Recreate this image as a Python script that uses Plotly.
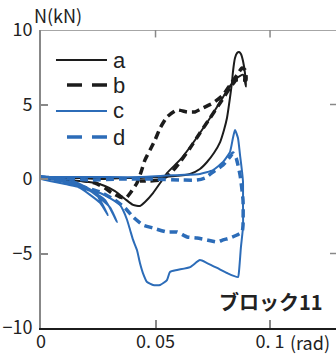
import plotly.graph_objects as go

# ---- data (x: rotation in rad, y: axial force N in kN) ----
a_x = [0, 0.008, 0.017, 0.026, 0.035, 0.043, 0.052, 0.0585, 0.0651, 0.0694, 0.0725, 0.0755, 0.0782,
       0.0799, 0.0812, 0.0825, 0.0834, 0.0838, 0.0847, 0.0856, 0.0865, 0.0873, 0.0882, 0.0891, 0.0895,
       0.0882, 0.0856, 0.0825, 0.0782, 0.0738, 0.0694, 0.0651, 0.0607, 0.0550, 0.0520, 0.0489, 0.0454,
       0.0432, 0.0402, 0.0367, 0.0323, 0.0279, 0.0236, 0.0170, 0.0105, 0.0039, 0]
a_y = [0.1, 0.07, 0.07, 0.0, 0.07, 0.07, 0.13, 0.2, 0.34, 0.67, 1.14, 1.74, 2.48,
       3.29, 4.09, 5.44, 6.51, 7.18, 8.12, 8.46, 8.52, 8.39, 7.92, 7.05, 6.2,
       7.0, 6.78, 6.24, 5.17, 4.09, 3.09, 2.15, 1.28, 0.40, -0.27, -0.94, -1.54,
       -1.81, -1.74, -1.34, -0.81, -0.47, -0.27, -0.13, -0.07, 0.0, 0.1]

b_x = [0, 0.0083, 0.017, 0.0236, 0.0279, 0.031, 0.0345, 0.0371, 0.0393, 0.0419, 0.0437, 0.0454,
       0.0476, 0.0498, 0.052, 0.055, 0.0594, 0.0638, 0.0672, 0.0707, 0.0751, 0.0795, 0.0825, 0.0856,
       0.0878, 0.0891, 0.0895, 0.0882, 0.0852, 0.0825, 0.0782, 0.0738, 0.0694, 0.0651, 0.0607, 0.0563,
       0.052, 0.0476, 0.0432]
b_y = [0.07, 0.0, -0.07, -0.27, -0.6, -0.94, -1.21, -1.28, -0.87, -0.27, 0.47, 1.28,
       1.95, 2.62, 3.42, 4.16, 4.63, 4.50, 4.50, 4.77, 5.10, 5.64, 6.31, 6.98,
       7.45, 7.32, 6.64, 6.64, 6.64, 6.11, 5.10, 4.09, 3.09, 2.08, 1.14, 0.34,
       -0.07, -0.13, -0.13]

c_x = [0, 0.0127, 0.0236, 0.0292, 0.0258, 0.017, 0.0083, 0, 0.017, 0.0279, 0.0332, 0.0301, 0.0214,
       0.0083, 0, 0.0083, 0.0258, 0.0432, 0.0607, 0.0694, 0.0751, 0.0795, 0.0825, 0.0838, 0.0847,
       0.086, 0.0869, 0.0878, 0.0882, 0.0882, 0.0882, 0.0873, 0.0865, 0.086, 0.0812, 0.0769, 0.0725,
       0.0694, 0.0651, 0.0594, 0.0563, 0.055, 0.052, 0.0489, 0.0463, 0.0445, 0.0432, 0.0419, 0.0402,
       0.0389, 0.0376, 0.0358, 0.0345, 0.0301, 0.0258, 0.0214, 0.017, 0.0105, 0.0039, 0]
c_y = [0.13, -0.07, -0.9, -2.42, -1.6, -0.6, -0.1, 0.2, -0.4, -1.4, -2.89, -1.9, -0.8,
       -0.1, 0.13, 0.13, 0.13, 0.13, 0.27, 0.34, 0.6, 1.14, 1.81, 2.75, 3.29,
       2.75, 1.61, 0.47, -0.2, -1.61, -3.22, -4.56, -6.11, -6.58, -6.31, -5.97, -5.64,
       -5.44, -5.91, -6.11, -6.24, -6.78, -7.11, -7.11, -6.91, -6.31, -5.64, -4.77, -4.09,
       -3.42, -2.75, -2.08, -1.74, -1.28, -0.94, -0.74, -0.54, -0.34, -0.13, 0]

d_x = [0, 0.0083, 0.0214, 0.0345, 0.0476, 0.062, 0.0681, 0.0716, 0.0751, 0.0795, 0.0825, 0.0838,
       0.0852, 0.0869, 0.0882, 0.0882, 0.0878, 0.0856, 0.0825, 0.0795, 0.0769, 0.0725, 0.0681, 0.0638,
       0.0594, 0.055, 0.0489, 0.0445, 0.0402, 0.0367, 0.0323, 0.0258, 0.017, 0.0083, 0]
d_y = [0.13, 0.07, -0.07, 0.0, 0.0, -0.07, -0.07, 0.07, 0.47, 0.94, 1.48, 1.74,
       1.41, 0.27, -1.41, -3.09, -3.56, -3.76, -3.96, -4.09, -4.23, -4.09, -3.96, -3.89,
       -3.56, -3.56, -3.29, -3.09, -2.55, -1.95, -1.41, -0.87, -0.47, -0.13, 0.07]

series_names = ["a", "b", "c", "d"]
x_tickvals = [0, 0.05, 0.1]
x_ticktext = ["0", "0. 05", "0. 1"]
y_tickvals = [-10, -5, 0, 5, 10]
y_ticktext = ["\u221210", "\u22125", "0", "5", "10"]

BLACK = "#1c1c1c"
BLUE = "#2c6cb8"
FONT = "Noto Sans CJK JP"

fig = go.Figure()
styles = {
    "a": dict(color=BLACK, width=2, dash="solid"),
    "b": dict(color=BLACK, width=3.5, dash="8px,5px"),
    "c": dict(color=BLUE, width=2, dash="solid"),
    "d": dict(color=BLUE, width=3.5, dash="8px,5px"),
}
for name, xs, ys in [("a", a_x, a_y), ("b", b_x, b_y), ("c", c_x, c_y), ("d", d_x, d_y)]:
    st = styles[name]
    fig.add_trace(go.Scatter(x=xs, y=ys, mode="lines", name=name, showlegend=False,
                             line=dict(color=st["color"], width=st["width"], dash=st["dash"],
                                       shape="spline", smoothing=0.5)))

XMAX = 0.1288
fig.update_layout(
    width=336, height=356,
    margin=dict(l=41, r=0, t=30, b=28),
    paper_bgcolor="white", plot_bgcolor="white",
    font=dict(family=FONT, size=18, color="#222"),
    xaxis=dict(range=[0, XMAX], tickvals=x_tickvals, ticktext=x_ticktext, automargin=False,
               ticks="inside", ticklen=8, tickcolor="#888", tickwidth=1.5, ticklabelstandoff=-4,
               showline=True, linecolor=BLACK, linewidth=2, showgrid=False, zeroline=False,
               tickfont=dict(family=FONT, size=18, color="#222")),
    yaxis=dict(range=[-10, 10], tickvals=y_tickvals, ticktext=y_ticktext, automargin=False,
               ticks="inside", ticklen=7, tickcolor="#888", tickwidth=1.5, ticklabelstandoff=3,
               showline=True, linecolor="#888", linewidth=2, showgrid=False, zeroline=False,
               tickfont=dict(family=FONT, size=18, color="#222")),
)

shapes = []
# top frame line and tick marks
shapes.append(dict(type="line", xref="paper", yref="y", x0=0, x1=1, y0=10, y1=10,
                   line=dict(color="#888", width=1.5)))
for xv in x_tickvals[1:]:
    shapes.append(dict(type="line", xref="x", yref="y", x0=xv, x1=xv, y0=10, y1=9.5,
                       line=dict(color="#888", width=1.5)))
for yv in [5, -5]:
    shapes.append(dict(type="line", xref="paper", yref="y", x0=1 - 6 / 295, x1=1, y0=yv, y1=yv,
                       line=dict(color="#888", width=1.5)))

# custom legend
leg_rows = [0.8993, 0.8154, 0.7282, 0.6409]
leg_x0 = {"a": 0.0508, "b": 0.0881, "c": 0.0508, "d": 0.0881}
annotations = []
for name, yp in zip(series_names, leg_rows):
    st = styles[name]
    shapes.append(dict(type="line", xref="paper", yref="paper", x0=leg_x0[name], x1=0.2237,
                       y0=yp, y1=yp,
                       line=dict(color=st["color"], width=st["width"] if st["dash"] == "solid" else 3.5,
                                 dash="solid" if st["dash"] == "solid" else "15px,10px")))
    annotations.append(dict(xref="paper", yref="paper", x=0.238, y=yp, text=name, showarrow=False,
                            xanchor="left", yanchor="middle",
                            font=dict(family="Liberation Sans", size=22, color="#222")))

annotations.append(dict(xref="paper", yref="paper", x=-0.03, y=1, yshift=15, text="N(kN)",
                        showarrow=False, xanchor="left", yanchor="middle",
                        font=dict(family=FONT, size=18, color="#222")))
annotations.append(dict(xref="paper", yref="paper", x=(288 - 41) / 295, y=0, yshift=-14,
                        text="(rad)", showarrow=False, xanchor="left", yanchor="middle",
                        font=dict(family=FONT, size=18, color="#222")))
annotations.append(dict(xref="paper", yref="paper", x=(325 - 41) / 295, y=(328 - 301) / 298,
                        text="<b>ブロック11</b>", showarrow=False, xanchor="right", yanchor="middle",
                        font=dict(family=FONT, size=20, color="#222")))

fig.update_layout(shapes=shapes, annotations=annotations)
fig.write_html("out.html", config={"displayModeBar": False},
               post_script="document.body.style.margin='0';")
